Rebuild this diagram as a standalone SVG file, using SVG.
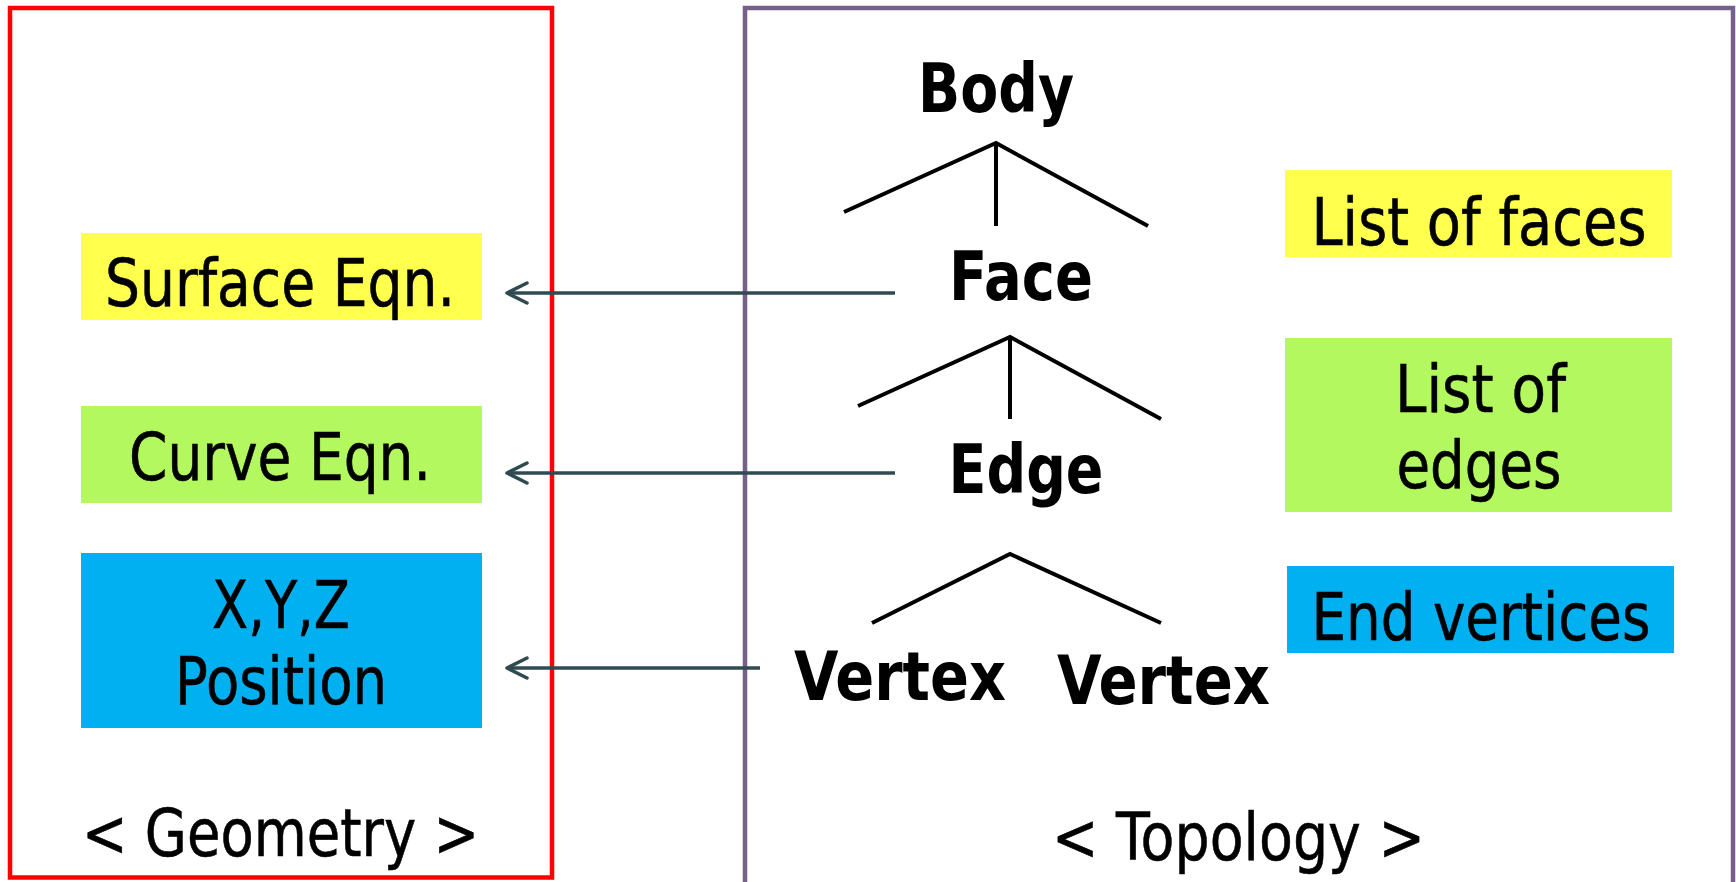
<svg xmlns="http://www.w3.org/2000/svg" width="1736" height="882" viewBox="0 0 1736 882">
  <style>
    .t { font-family: "DejaVu Sans", "Liberation Sans", sans-serif; font-size: 66px; fill: #000; stroke: #000; stroke-width: 0.6; text-anchor: middle; }
    .b { font-family: "DejaVu Sans", "Liberation Sans", sans-serif; font-size: 67px; font-weight: bold; fill: #000; text-anchor: middle; }
    .tree { stroke: #000; stroke-width: 4; fill: none; }
    .arrow { stroke: #2F4A50; stroke-width: 3.5; fill: none; marker-end: url(#chev); }
  </style>
  <defs>
    <marker id="chev" markerUnits="userSpaceOnUse" viewBox="-24 -13 27 26" refX="0" refY="0" markerWidth="27" markerHeight="26" orient="auto">
      <path d="M -20 -10 L 0 0 L -20 10" stroke="#2F4A50" stroke-width="3.5" fill="none" stroke-linecap="round" stroke-linejoin="round"/>
    </marker>
  </defs>
  <rect width="1736" height="882" fill="#fff"/>

  <g id="geometry-frame">
    <rect x="10" y="8" width="542" height="869.5" fill="none" stroke="#FF0000" stroke-width="4.5"/>
    <text class="t" x="280.5" y="856" textLength="397" lengthAdjust="spacingAndGlyphs">&lt; Geometry &gt;</text>
  </g>
  <g id="topology-frame">
    <rect x="745" y="8" width="988" height="900" fill="none" stroke="#76608A" stroke-width="4.5"/>
    <text class="t" x="1238.5" y="860" textLength="373" lengthAdjust="spacingAndGlyphs">&lt; Topology &gt;</text>
  </g>

  <g id="surface-eqn">
    <rect x="81" y="233" width="401" height="87" fill="#FFFF4D"/>
    <text class="t" x="280" y="306" textLength="350" lengthAdjust="spacingAndGlyphs">Surface Eqn.</text>
  </g>
  <g id="curve-eqn">
    <rect x="81" y="406" width="401" height="97" fill="#B3F85E"/>
    <text class="t" x="280" y="480" textLength="302" lengthAdjust="spacingAndGlyphs">Curve Eqn.</text>
  </g>
  <g id="xyz-position">
    <rect x="81" y="553" width="401" height="175" fill="#00B0F0"/>
    <text class="t" x="281" y="628" textLength="138" lengthAdjust="spacingAndGlyphs">X,Y,Z</text>
    <text class="t" x="281" y="704" textLength="212" lengthAdjust="spacingAndGlyphs">Position</text>
  </g>

  <g id="body"><text class="b" x="996" y="112" textLength="156" lengthAdjust="spacingAndGlyphs">Body</text></g>
  <g id="face"><text class="b" x="1021" y="300" textLength="144" lengthAdjust="spacingAndGlyphs">Face</text></g>
  <g id="edge"><text class="b" x="1026" y="493" textLength="155" lengthAdjust="spacingAndGlyphs">Edge</text></g>
  <g id="vertex-1"><text class="b" x="900" y="700" textLength="212" lengthAdjust="spacingAndGlyphs">Vertex</text></g>
  <g id="vertex-2"><text class="b" x="1163.5" y="704" textLength="213" lengthAdjust="spacingAndGlyphs">Vertex</text></g>

  <g id="list-of-faces">
    <rect x="1285" y="170" width="387" height="87" fill="#FFFF4D"/>
    <text class="t" x="1479" y="245" textLength="335" lengthAdjust="spacingAndGlyphs">List of faces</text>
  </g>
  <g id="list-of-edges">
    <rect x="1285" y="338" width="387" height="174" fill="#B3F85E"/>
    <text class="t" x="1480.5" y="412" textLength="171" lengthAdjust="spacingAndGlyphs">List of</text>
    <text class="t" x="1479" y="488" textLength="165" lengthAdjust="spacingAndGlyphs">edges</text>
  </g>
  <g id="end-vertices">
    <rect x="1287" y="566" width="387" height="87" fill="#00B0F0"/>
    <text class="t" x="1481" y="640" textLength="339" lengthAdjust="spacingAndGlyphs">End vertices</text>
  </g>

  <g id="connectors">
    <polyline class="tree" points="844,212 996,143 1148,226"/>
    <line class="tree" x1="996" y1="143" x2="996" y2="226"/>
    <polyline class="tree" points="858,406 1010,337 1161,419"/>
    <line class="tree" x1="1010" y1="337" x2="1010" y2="419"/>
    <polyline class="tree" points="872,623 1010,554 1161,623"/>
    <line class="arrow" x1="895" y1="293" x2="507" y2="293"/>
    <line class="arrow" x1="895" y1="473" x2="507" y2="473"/>
    <line class="arrow" x1="760" y1="668" x2="507" y2="668"/>
  </g>
</svg>
